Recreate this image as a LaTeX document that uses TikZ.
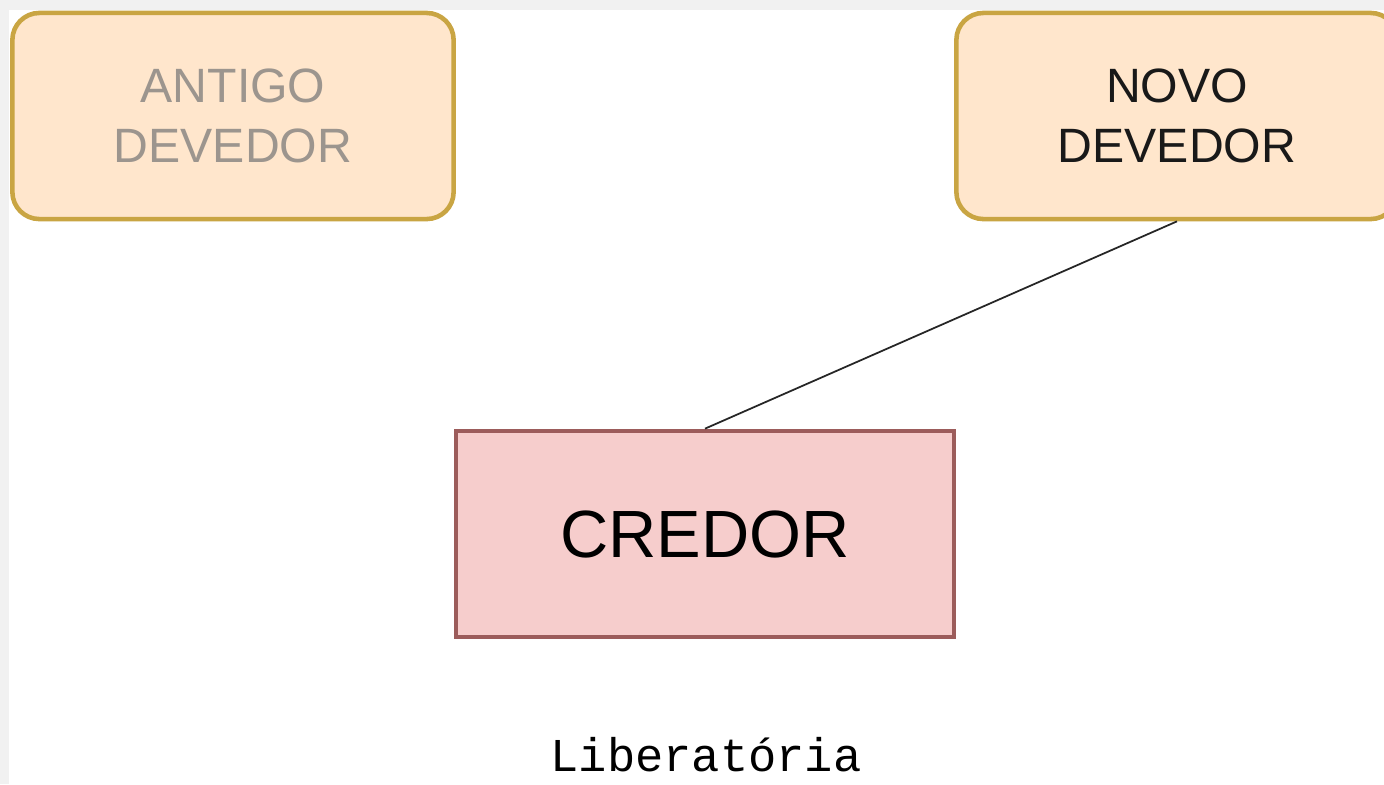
\documentclass[tikz,border=0pt]{standalone}
\usepackage{fontspec}
\setmainfont{Liberation Sans}
\setmonofont{Liberation Mono}
\usepackage{tikz}
\usetikzlibrary{positioning}

\definecolor{devfill}{HTML}{FFE6CC}
\definecolor{devline}{HTML}{C9A543}
\definecolor{credfill}{HTML}{F6CDCC}
\definecolor{credline}{HTML}{9C5C5B}
\definecolor{margin}{HTML}{F1F1F1}
\definecolor{faded}{HTML}{9C958E}

\tikzset{
  devedor/.style={draw=devline, fill=devfill, rounded corners=0.27cm, line width=1.3pt,
    minimum width=4.41cm, minimum height=2.06cm, align=center,
    font=\fontsize{13.7}{17}\selectfont},
  credorbox/.style={draw=credline, fill=credfill, line width=1.3pt,
    minimum width=4.98cm, minimum height=2.06cm, font=\fontsize{19}{22}\selectfont}
}

\begin{document}
\begin{tikzpicture}[x=0.01cm, y=-0.01cm]
      \useasboundingbox (0,0) rectangle (1384,784);
      \fill[margin] (0,0) rectangle (1384,784);
      \fill[white] (9,10) rectangle (1384,784);

      \node (antigo)[devedor, text=faded] at (233,116) {ANTIGO\\DEVEDOR};
      \node (novo)[devedor, text=black!90] at (1177,116) {NOVO\\DEVEDOR};
      \node (credor)[credorbox] at (705,534) {CREDOR};
      \node (liber)[font=\ttfamily\fontsize{13.4}{16}\selectfont, inner sep=0pt] at (706,755) {Liberatória};

      \draw[black!85, line width=0.5pt] (novo.south) -- (credor.north);

    \end{tikzpicture}
\end{document}
